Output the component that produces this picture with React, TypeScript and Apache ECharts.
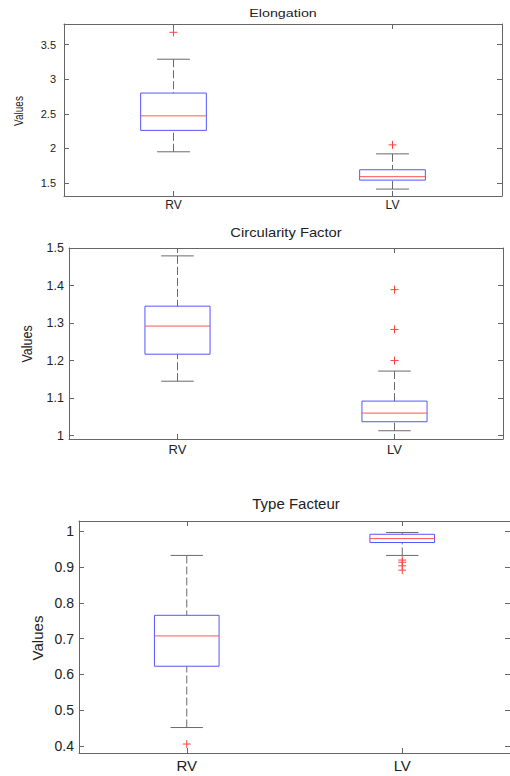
import React, { useEffect, useRef } from 'react';
import * as echarts from 'echarts';

// ---------- data ----------
const categories = ['RV', 'LV'];

// box statistics: [lower whisker, Q1, median, Q3, upper whisker]
const elongationRV = [1.95, 2.26, 2.47, 2.8, 3.29];
const elongationLV = [1.41, 1.54, 1.59, 1.69, 1.92];
const elongationOutliersRV = [3.68];
const elongationOutliersLV = [2.05];
const elongationTicks = [1.5, 2, 2.5, 3, 3.5];

const circularityRV = [1.145, 1.217, 1.292, 1.345, 1.479];
const circularityLV = [1.013, 1.037, 1.06, 1.092, 1.172];
const circularityOutliersRV: number[] = [];
const circularityOutliersLV = [1.2, 1.283, 1.389];
const circularityTicks = [1, 1.1, 1.2, 1.3, 1.4, 1.5];

const typeFacteurRV = [0.452, 0.623, 0.7075, 0.765, 0.932];
const typeFacteurLV = [0.932, 0.968, 0.979, 0.991, 0.996];
const typeFacteurOutliersRV = [0.406];
const typeFacteurOutliersLV = [0.919, 0.913, 0.903, 0.891];
const typeFacteurTicks = [0.4, 0.5, 0.6, 0.7, 0.8, 0.9, 1];

const titles = ['Elongation', 'Circularity Factor', 'Type Facteur'];
const yAxisTitle = 'Values';

// ---------- layout / style ----------
const FONT = '"Liberation Sans", Arial, Helvetica, sans-serif';
const AXIS = '#666666';
const TEXT = '#222222';
const BOX = '#5555ff';
const MED = '#ff5555';
const WHISK = '#6a6a6a';
const OUT = '#ff4040';

const layouts = [
  {
    grid: { left: 64, top: 24, width: 438, height: 172 },
    min: 1.31, max: 3.8,
    tickFont: 11, catFont: 12, yMargin: 8, xMargin: 3,
    title: { x: 283, y: 13, size: 11, sx: 1.3 },
    vals: { x: 19, y: 111, size: 10, s: 1.3 },
  },
  {
    grid: { left: 69, top: 248, width: 434, height: 191 },
    min: 0.991, max: 1.5,
    tickFont: 12.5, catFont: 13, yMargin: 5, xMargin: 4,
    title: { x: 286, y: 233, size: 12.5, sx: 1.18 },
    vals: { x: 27, y: 344, size: 12.5, s: 1.1 },
  },
  {
    grid: { left: 79, top: 521, width: 431, height: 232 },
    min: 0.381, max: 1.028,
    tickFont: 14, catFont: 15, yMargin: 5, xMargin: 5,
    title: { x: 296, y: 503, size: 15, sx: 1 },
    vals: { x: 37, y: 638, size: 15, s: 1 },
  },
];

const panelBoxes = [
  [elongationRV, elongationLV],
  [circularityRV, circularityLV],
  [typeFacteurRV, typeFacteurLV],
];
const panelOutliers = [
  [elongationOutliersRV, elongationOutliersLV],
  [circularityOutliersRV, circularityOutliersLV],
  [typeFacteurOutliersRV, typeFacteurOutliersLV],
];
const panelTicks = [elongationTicks, circularityTicks, typeFacteurTicks];

function boxRender(params: any, api: any) {
  const c = api.value(0);
  const lo = api.coord([c, api.value(1)]);
  const q1 = api.coord([c, api.value(2)]);
  const md = api.coord([c, api.value(3)]);
  const q3 = api.coord([c, api.value(4)]);
  const hi = api.coord([c, api.value(5)]);
  const band = api.size([1, 0])[0];
  const bw = band * 0.3;
  const cw = bw / 2;
  const x = lo[0];
  const dash = { stroke: WHISK, lineWidth: 1, lineDash: [8, 3] };
  const solid = { stroke: WHISK, lineWidth: 1 };
  return {
    type: 'group',
    children: [
      { type: 'line', shape: { x1: x, y1: hi[1], x2: x, y2: q3[1] }, style: dash },
      { type: 'line', shape: { x1: x, y1: lo[1], x2: x, y2: q1[1] }, style: dash },
      { type: 'line', shape: { x1: x - cw / 2, y1: hi[1], x2: x + cw / 2, y2: hi[1] }, style: solid },
      { type: 'line', shape: { x1: x - cw / 2, y1: lo[1], x2: x + cw / 2, y2: lo[1] }, style: solid },
      {
        type: 'rect',
        shape: { x: x - bw / 2, y: q3[1], width: bw, height: q1[1] - q3[1] },
        style: { fill: 'none', stroke: BOX, lineWidth: 1 },
      },
      { type: 'line', shape: { x1: x - bw / 2, y1: md[1], x2: x + bw / 2, y2: md[1] }, style: { stroke: MED, lineWidth: 1 } },
    ],
  };
}

function outlierRender(params: any, api: any) {
  const p = api.coord([api.value(0), api.value(1)]);
  const h = 4;
  const st = { stroke: OUT, lineWidth: 1 };
  return {
    type: 'group',
    children: [
      { type: 'line', shape: { x1: p[0] - h, y1: p[1], x2: p[0] + h, y2: p[1] }, style: st },
      { type: 'line', shape: { x1: p[0], y1: p[1] - h, x2: p[0], y2: p[1] + h }, style: st },
    ],
  };
}

function buildOption() {
  const grid: any[] = [];
  const xAxis: any[] = [];
  const yAxis: any[] = [];
  const series: any[] = [];
  const graphic: any[] = [];

  layouts.forEach((L, i) => {
    grid.push({ ...L.grid, show: false, containLabel: false });
    const line = { show: true, lineStyle: { color: AXIS, width: 1 } };
    const tick = { show: true, inside: true, length: 5, alignWithLabel: true, lineStyle: { color: AXIS } };
    xAxis.push({
      type: 'category', gridIndex: i, data: categories, position: 'bottom', boundaryGap: true,
      axisLine: line, axisTick: tick,
      axisLabel: { fontSize: L.catFont, color: TEXT, fontFamily: FONT, margin: L.xMargin },
      splitLine: { show: false },
    });
    xAxis.push({
      type: 'category', gridIndex: i, data: categories, position: 'top', boundaryGap: true,
      axisLine: line, axisTick: tick, axisLabel: { show: false }, splitLine: { show: false },
    });
    const ticks = panelTicks[i];
    yAxis.push({
      type: 'value', gridIndex: i, min: L.min, max: L.max, position: 'left',
      axisLine: line,
      axisTick: { show: true, inside: true, length: 5, lineStyle: { color: AXIS }, customValues: ticks },
      axisLabel: { fontSize: L.tickFont, color: TEXT, fontFamily: FONT, margin: L.yMargin, customValues: ticks },
      splitLine: { show: false },
    });
    yAxis.push({
      type: 'value', gridIndex: i, min: L.min, max: L.max, position: 'right',
      axisLine: line,
      axisTick: { show: true, inside: true, length: 5, lineStyle: { color: AXIS }, customValues: ticks },
      axisLabel: { show: false, customValues: ticks },
      splitLine: { show: false },
    });

    const boxes = panelBoxes[i];
    series.push({
      type: 'custom',
      coordinateSystem: 'cartesian2d',
      xAxisIndex: 2 * i,
      yAxisIndex: 2 * i,
      renderItem: boxRender,
      encode: { x: 0, y: [1, 2, 3, 4, 5] },
      data: boxes.map((b, k) => [k, ...b]),
      silent: true,
    });
    const outs: number[][] = [];
    panelOutliers[i].forEach((arr, k) => arr.forEach((v) => outs.push([k, v])));
    series.push({
      type: 'custom',
      coordinateSystem: 'cartesian2d',
      xAxisIndex: 2 * i,
      yAxisIndex: 2 * i,
      renderItem: outlierRender,
      encode: { x: 0, y: 1 },
      data: outs,
      silent: true,
    });

    graphic.push({
      type: 'text',
      x: L.title.x,
      y: L.title.y,
      scaleX: L.title.sx,
      style: {
        text: titles[i], fontSize: L.title.size, fontFamily: FONT, fill: TEXT,
        align: 'center', verticalAlign: 'middle',
      },
    });
    graphic.push({
      type: 'text',
      x: L.vals.x,
      y: L.vals.y,
      rotation: Math.PI / 2,
      scaleY: L.vals.s,
      style: {
        text: yAxisTitle, fontSize: L.vals.size, fontFamily: FONT, fill: TEXT,
        align: 'center', verticalAlign: 'middle',
      },
    });
  });

  return {
    animation: false,
    backgroundColor: '#ffffff',
    textStyle: { fontFamily: FONT },
    grid,
    xAxis,
    yAxis,
    series,
    graphic,
  };
}

export default function App() {
  const ref = useRef<HTMLDivElement>(null);
  useEffect(() => {
    document.body.style.margin = '0';
    const chart = echarts.init(ref.current as HTMLDivElement, null, { renderer: 'svg' });
    chart.setOption(buildOption() as any);
    return () => chart.dispose();
  }, []);
  return <div ref={ref} style={{ width: 510, height: 776 }} />;
}
